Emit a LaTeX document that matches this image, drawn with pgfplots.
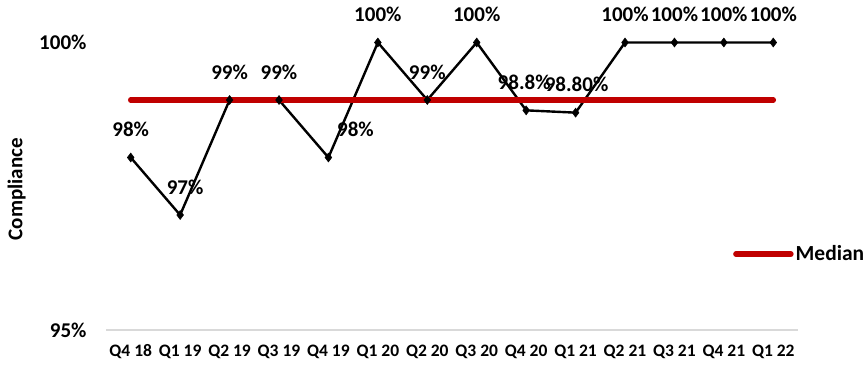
\documentclass[border=0pt]{standalone}
\usepackage{pgfplots}
\pgfplotsset{compat=1.18}
\usepackage{fontspec}
\setmainfont{Carlito}
\definecolor{medred}{HTML}{C00000}
\definecolor{axgray}{HTML}{D9D9D9}
\newcommand{\tl}[1]{\textbf{#1}}
\begin{document}
\begin{tikzpicture}[x=1pt,y=1pt]
\useasboundingbox (0,0) rectangle (866,367);
\begin{axis}[
  at={(106pt,37pt)}, anchor=south west, scale only axis,
  width=692pt, height=287.5pt,
  xmin=-0.5, xmax=13.5, ymin=95, ymax=100,
  clip=false,
  axis x line*=bottom, axis y line*=left,
  y axis line style={draw=none},
  x axis line style={draw=axgray, line width=1.5pt, -},
  major tick length=0pt,
  xtick={0,...,13},
  xticklabels={\tl{Q4 18},\tl{Q1 19},\tl{Q2 19},\tl{Q3 19},\tl{Q4 19},\tl{Q1 20},\tl{Q2 20},\tl{Q3 20},\tl{Q4 20},\tl{Q1 21},\tl{Q2 21},\tl{Q3 21},\tl{Q4 21},\tl{Q1 22}},
  xticklabel style={font=\bfseries\fontsize{17.5}{20}\selectfont, yshift=-11pt},
  ytick={95,100},
  yticklabels={\tl{95\%},\tl{100\%}},
  yticklabel style={font=\bfseries\fontsize{21}{25}\selectfont, xshift=-16pt},
  ylabel={Compliance},
  ylabel style={at={(axis description cs:-0.129,0.49)}, anchor=center, rotate=0, font=\bfseries\fontsize{21}{25}\selectfont},
  legend style={draw=none, fill=none, at={(0.906,0.264)}, anchor=west, font=\bfseries\fontsize{21.5}{25}\selectfont, inner sep=0pt, legend cell align=left},
  legend image code/.code={\draw[#1] (0pt,0pt) -- (55pt,0pt);},
]
\addplot[black, line width=2.4pt, mark=diamond*, mark size=4.5pt, mark options={solid, line width=0.5pt},
  nodes near coords, point meta=explicit symbolic,
  visualization depends on={value \thisrow{dx} \as \dx},
  every node near coord/.append style={anchor=center, xshift=\dx pt, yshift=28pt, font=\bfseries\fontsize{21}{25}\selectfont, inner sep=0pt},
  forget plot]
  table[x=x, y=y, meta=lab] {
x y lab dx
0 98 98\% 0
1 97 97\% 5
2 99 99\% 0
3 99 99\% 0
4 98 98\% 27
5 100 100\% 0
6 99 99\% 0
7 100 100\% 0
8 98.82 98.8\% -2
9 98.78 98.80\% 1
10 100 100\% 0
11 100 100\% 0
12 100 100\% 0
13 100 100\% 0
};
\addplot[medred, line width=5.5pt, line cap=round] coordinates {(0,99) (13,99)};
\addlegendentry{Median}
\end{axis}
\end{tikzpicture}
\end{document}
